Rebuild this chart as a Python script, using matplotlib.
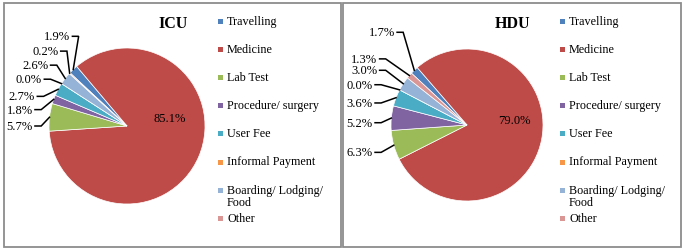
import numpy as np
import matplotlib
matplotlib.use("Agg")
import matplotlib.pyplot as plt
from matplotlib.patches import Rectangle

# Datos de los gráficos
categories = ["Travelling", "Medicine", "Lab Test", "Procedure/ surgery", "User Fee",
              "Informal Payment", "Boarding/ Lodging/\nFood", "Other"]
icu_values = [1.9, 85.1, 5.7, 1.8, 2.7, 0.0, 2.6, 0.2]
hdu_values = [1.7, 79.0, 6.3, 5.2, 3.6, 0.0, 3.0, 1.3]
colors = ["#4F81BD", "#BE4B48", "#9BBB59", "#8064A2", "#4BACC6",
          "#F79646", "#95B3D7", "#D99694"]

W, H = 685, 253
plt.rcParams['font.family'] = ['Liberation Serif', 'DejaVu Serif']
fig = plt.figure(figsize=(W / 100, H / 100), dpi=100)


def px_axes(cx, cy, r):
    return fig.add_axes([(cx - r) / W, 1 - (cy + r) / H, 2 * r / W, 2 * r / H])


# posiciones de etiquetas (coordenadas del pie, radio = 1), por categoría
icu_label_pos = [(-0.73, 1.15), (0.55, 0.10), (-1.21, 0.0), (-1.21, 0.21),
                 (-1.18, 0.38), (-1.09, 0.60), (-1.01, 0.78), (-0.88, 0.96)]
hdu_label_pos = [(-0.95, 1.22), (0.62, 0.07), (-1.24, -0.36), (-1.24, 0.03),
                 (-1.24, 0.29), (-1.24, 0.53), (-1.18, 0.72), (-1.18, 0.87)]

panels = [
    dict(title="ICU", values=icu_values, center=(127, 127), r=78, labels=icu_label_pos,
         box=(4, 4, 341, 248), leg_x=218),
    dict(title="HDU", values=hdu_values, center=(467, 126), r=76, labels=hdu_label_pos,
         box=(343, 4, 681, 248), leg_x=560),
]

for p in panels:
    x0, y0, x1, y1 = p["box"]
    fig.patches.append(Rectangle((x0 / W, 1 - y1 / H), (x1 - x0) / W, (y1 - y0) / H,
                                 transform=fig.transFigure, fill=False,
                                 edgecolor="#8c8c8c", linewidth=1.3))

    ax = px_axes(p["center"][0], p["center"][1], p["r"])
    wedges, _ = ax.pie(p["values"], colors=colors, startangle=137, counterclock=False,
                       wedgeprops=dict(linewidth=0.5, edgecolor="white"))
    ax.set_xlim(-1, 1)
    ax.set_ylim(-1, 1)

    for i, (w, v) in enumerate(zip(wedges, p["values"])):
        lx, ly = p["labels"][i]
        txt = f"{v:.1f}%"
        if i == 1:
            ax.text(lx, ly, txt, ha="center", va="center", fontsize=9)
            continue
        mid = np.deg2rad((w.theta1 + w.theta2) / 2)
        tx, ty = np.cos(mid), np.sin(mid)
        ax.text(lx, ly, txt, ha="right", va="center", fontsize=9)
        # línea guía estilo Excel: tramo horizontal + tramo al sector
        sx = lx + 0.03
        ax.plot([sx, sx + 0.08, tx], [ly, ly, ty], color="black", lw=1.1,
                solid_joinstyle="miter", clip_on=False)

    fig.text((p["center"][0] + 46) / W, 1 - 24 / H, p["title"], ha="center", va="center",
             fontsize=11.5, fontweight="bold")

    # leyenda manual
    for i, (cat, col) in enumerate(zip(categories, colors)):
        yc = 22 + 28.2 * i
        fig.patches.append(Rectangle((p["leg_x"] / W, 1 - (yc + 2.5) / H), 5 / W, 5 / H,
                                     transform=fig.transFigure, facecolor=col,
                                     edgecolor="none"))
        fig.text((p["leg_x"] + 9) / W, 1 - (yc - 6.5) / H, cat, ha="left", va="top",
                 fontsize=8.7, linespacing=1.0)

fig.savefig("out.png", dpi=100, facecolor="white")
